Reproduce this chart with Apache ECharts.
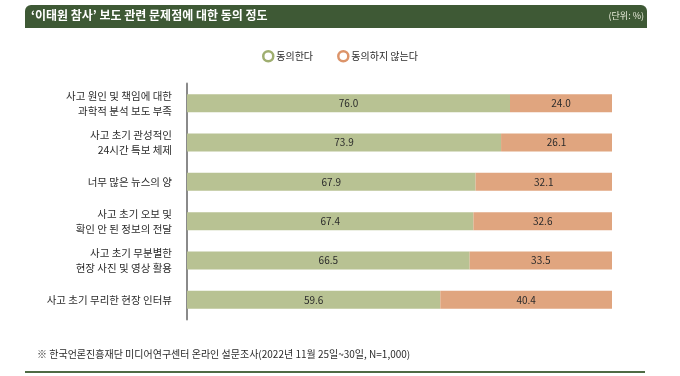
<!DOCTYPE html>
<html>
<head>
<meta charset="utf-8">
<script src="https://cdn.jsdelivr.net/npm/echarts@6/dist/echarts.min.js"></script>
<style>
  html, body { margin: 0; padding: 0; background: #fff; }
  #chart { width: 680px; height: 376px; }
</style>
</head>
<body>
<div id="chart"></div>
<script>
// 항목 (위에서 아래 순서)
const categories = [
  '사고 원인 및 책임에 대한\n과학적 분석 보도 부족',
  '사고 초기 관성적인\n24시간 특보 체제',
  '너무 많은 뉴스의 양',
  '사고 초기 오보 및\n확인 안 된 정보의 전달',
  '사고 초기 무분별한\n현장 사진 및 영상 활용',
  '사고 초기 무리한 현장 인터뷰'
]
const agree = [76.0, 73.9, 67.9, 67.4, 66.5, 59.6]
const disagree = [24.0, 26.1, 32.1, 32.6, 33.5, 40.4]
const seriesNames = ['동의한다', '동의하지 않는다']

const FONT = '"Noto Sans CJK KR", "Noto Sans", sans-serif'
const GREEN = '#b8c293'
const ORANGE = '#e0a57f'
const HEADER = '#3e5935'

var myChart = echarts.init(document.getElementById('chart'))

let label = {
  show: true,
  position: 'inside',
  color: '#2b2b2b',
  fontSize: 10,
  fontFamily: FONT,
  formatter: p => p.value.toFixed(1)
}

let option = {
  animation: false,
  textStyle: { fontFamily: FONT },
  graphic: [
    {
      type: 'rect',
      shape: { x: 25, y: 5, width: 622, height: 23, r: [6, 6, 0, 0] },
      style: { fill: HEADER }
    },
    {
      type: 'text',
      left: 31,
      top: 9,
      style: {
        text: '‘이태원 참사’ 보도 관련 문제점에 대한 동의 정도',
        fill: '#fff',
        font: 'bold 12px ' + FONT
      }
    },
    {
      type: 'text',
      right: 36,
      top: 11,
      style: { text: '(단위: %)', fill: '#e6ead8', font: '9px ' + FONT }
    },
    {
      type: 'text',
      left: 37,
      top: 349,
      style: {
        text: '※ 한국언론진흥재단 미디어연구센터 온라인 설문조사(2022년 11월 25일~30일, N=1,000)',
        fill: '#2b2b2b',
        font: '10px ' + FONT
      }
    },
    {
      type: 'rect',
      shape: { x: 25, y: 371, width: 620, height: 2 },
      style: { fill: '#4f6b45' }
    }
  ],
  legend: {
    left: 257,
    top: 45,
    itemWidth: 10,
    itemHeight: 10,
    itemGap: 24,
    icon: 'circle',
    textStyle: { fontSize: 10, color: '#2b2b2b', fontFamily: FONT, padding: [0, 0, 0, -2] },
    data: [
      { name: seriesNames[0], itemStyle: { color: '#fff', borderColor: '#9fae70', borderWidth: 2.5 } },
      { name: seriesNames[1], itemStyle: { color: '#fff', borderColor: '#dc946a', borderWidth: 2.5 } }
    ]
  },
  grid: { left: 187, right: 68, top: 83.5, height: 236 },
  xAxis: { type: 'value', min: 0, max: 100, show: false },
  yAxis: {
    type: 'category',
    inverse: true,
    data: categories,
    axisLine: { show: true, lineStyle: { color: '#8a8a8a', width: 2 } },
    axisTick: { show: false },
    axisLabel: {
      color: '#2b2b2b',
      fontSize: 10.5,
      lineHeight: 15,
      align: 'right',
      margin: 15,
      fontFamily: FONT
    }
  },
  series: [
    {
      name: seriesNames[0],
      type: 'bar',
      stack: 'total',
      barWidth: 18,
      itemStyle: { color: GREEN },
      label: label,
      data: agree
    },
    {
      name: seriesNames[1],
      type: 'bar',
      stack: 'total',
      barWidth: 18,
      itemStyle: { color: ORANGE },
      label: label,
      data: disagree
    }
  ]
}

myChart.setOption(option)
</script>
</body>
</html>
